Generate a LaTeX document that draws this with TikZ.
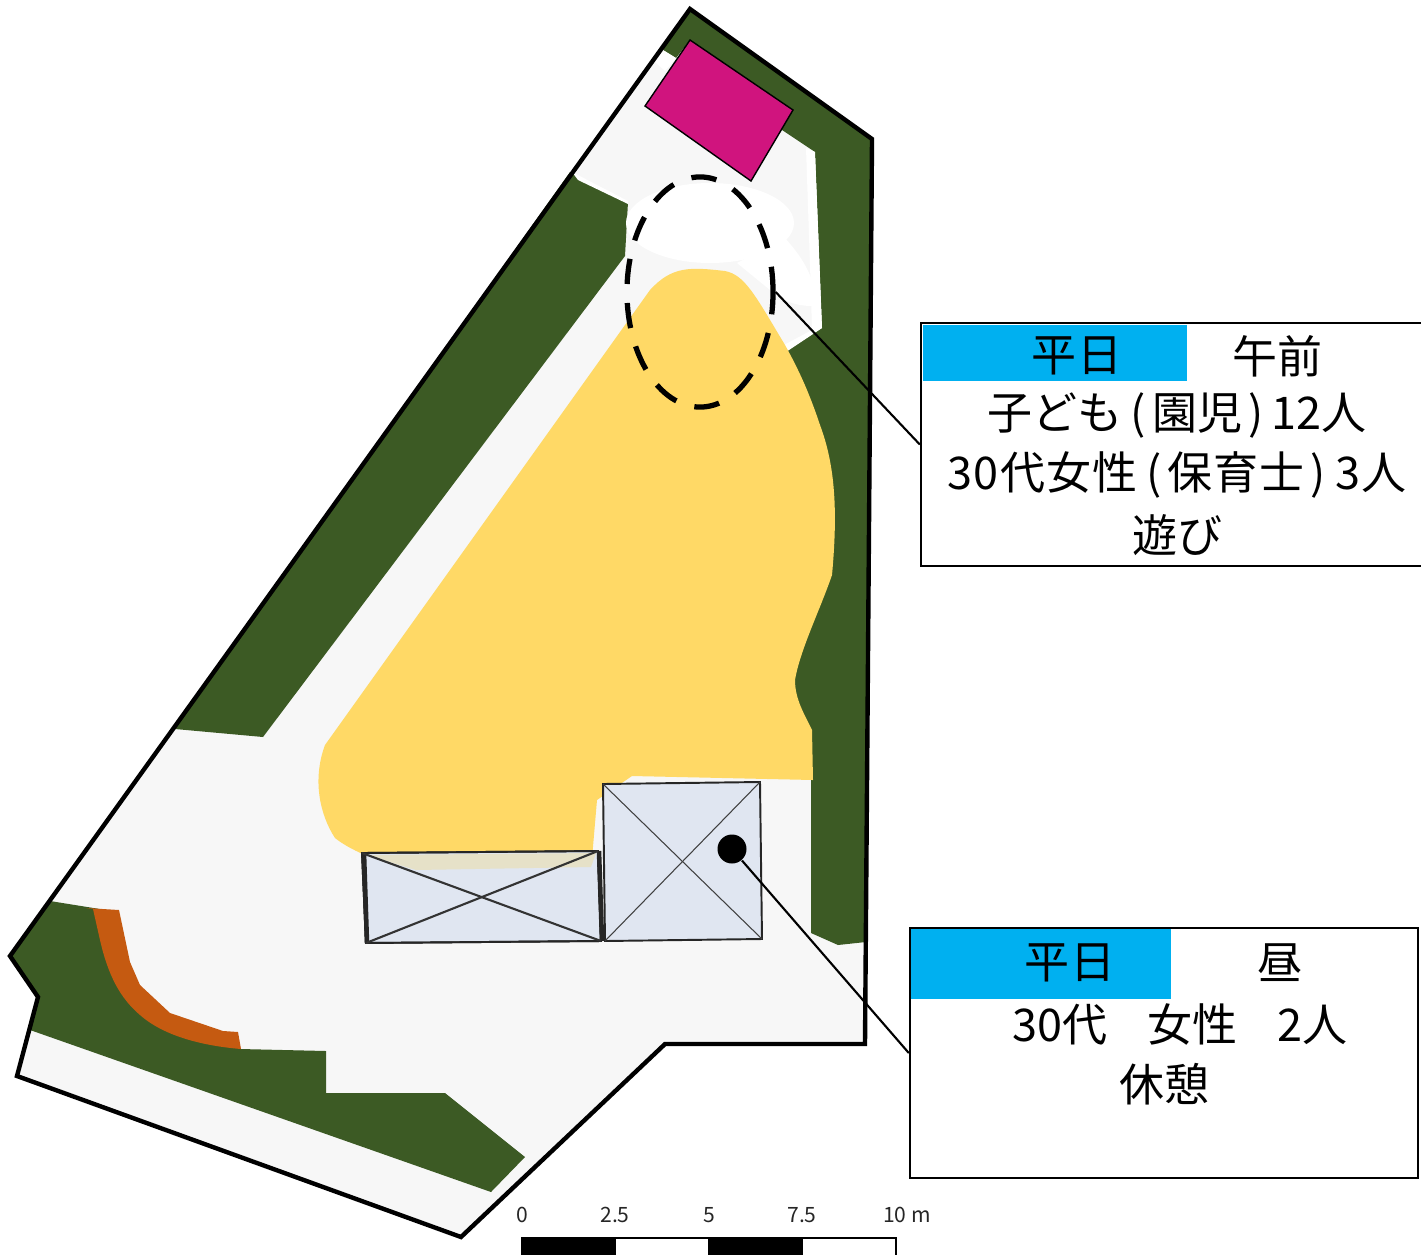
\documentclass[tikz,border=0pt]{standalone}
\usepackage{fontspec}
\setmainfont{Noto Sans CJK JP}
\usetikzlibrary{positioning,shapes.geometric}

\begin{document}
\begin{tikzpicture}
[x=0.01cm,y=-0.01cm,
site/.style={fill=sitegray},
green/.style={fill=parkgreen},
gap/.style={fill=white},
house/.style={draw=black!85,fill=housefill,line width=0.55pt},
thin cross/.style={draw=black!75,line width=0.3pt},
wide cross/.style={draw=black!80,line width=0.6pt},
panel/.style={draw=black,line width=0.6pt,fill=white,inner sep=0pt},
head/.style={fill=headblue,inner sep=0pt},
say/.style={inner sep=0pt,font=\fontsize{12.8}{14}\selectfont},
tick/.style={inner sep=0pt,font=\fontsize{6}{7}\selectfont,text=black!85},
lead/.style={draw=black,line width=0.6pt}]
\definecolor{sitegray}{HTML}{F7F7F7}
\definecolor{parkgreen}{HTML}{3C5A24}
\definecolor{sandyellow}{HTML}{FFD966}
\definecolor{housefill}{HTML}{E0E6F1}
\definecolor{housebeige}{HTML}{E6E1C8}
\definecolor{roofpink}{HTML}{D0147E}
\definecolor{barkorange}{HTML}{C55A11}
\definecolor{headblue}{HTML}{00B0F0}
\useasboundingbox (0,0) rectangle (1421,1254);

\fill [site] (690,9) -- (872,139) -- (865,1044) -- (665,1044) -- (461,1237) -- (17,1076) -- (38,997) -- (10,956) -- cycle;

\fill [green] (690,9) -- (872,139) -- (866,942) -- (838,945) -- (811,933) -- (811,735) -- (790,690) -- (785,352) -- (822,328) -- (815,152) -- (782,130) -- (690,40) -- (676,58) -- (663,50) -- cycle;
\fill [green] (570,172) -- (628,202) -- (625,256) -- (263,737) -- (175,729) -- cycle;
\fill [green] (50,901) -- (106,910) -- (115,950) -- (128,985) -- (155,1015) -- (215,1038) -- (240,1049) -- (326,1051) -- (326,1093) -- (445,1093) -- (525,1157) -- (491,1192) -- (30,1030) -- (38,997) -- (10,956) -- cycle;

\fill [barkorange] (86,908) -- (119,910) -- (130,962) -- (140,985) -- (170,1013) -- (223,1031) -- (238,1032) -- (241,1049) .. controls (205,1046) and (165,1037) .. (140,1015) .. controls (120,998) and (108,975) .. (100,940) -- (93,909) -- cycle;

\fill [gap] (663,50) -- (676,58) -- (665,71) -- (655,62) -- cycle;
\fill [gap] (572,172) -- (628,201) -- (628,204) -- (578,180) -- cycle;
\fill [gap] (806,148) -- (815,152) -- (822,328) -- (786,352) -- (782,346) -- (812,330) -- (810,265) -- cycle;
\fill [gap] (710,223) ellipse [x radius=84,y radius=40];
\fill [gap] (785,238) .. controls (800,255) and (806,265) .. (812,280) -- (812,306) .. controls (795,306) and (780,300) .. (770,290) -- (737,263) -- cycle;

\fill [sandyellow] (325,745) -- (650,290) .. controls (672,266) and (690,267) .. (725,271) .. controls (745,275) and (755,295) .. (785,345) .. controls (800,372) and (810,395) .. (820,425) .. controls (835,465) and (838,510) .. (832,575) .. controls (820,610) and (800,650) .. (795,680) .. controls (795,700) and (805,715) .. (812,730) -- (813,780) -- (632,776) -- (597,800) -- (591,870) -- (400,868) .. controls (375,860) and (350,850) .. (335,838) .. controls (320,815) and (312,780) .. (325,745) -- cycle;

\fill [house] (362,853) -- (598,851) -- (601,941) -- (366,943) -- cycle;
\fill [housebeige] (366,855) -- (596,853) -- (591,867) -- (416,870) -- cycle;
\draw [draw=black!85,line width=0.55pt] (362,853) -- (598,851) -- (601,941) -- (366,943) -- cycle;
\draw [black!85,line width=1.3pt] (364,853) -- (367,943);
\draw [black!85,line width=1.3pt] (599,851) -- (602,941);
\draw [wide cross] (362,853) -- (601,941);
\draw [wide cross] (598,851) -- (366,943);

\filldraw [house] (603,784) -- (760,782) -- (762,939) -- (605,941) -- cycle;
\draw [thin cross] (603,784) -- (762,939);
\draw [thin cross] (760,782) -- (605,941);

\draw [black,fill=roofpink,line width=0.4pt] (690,40) -- (793,110) -- (751,181) -- (645,106) -- cycle;

\draw [line width=1.25pt,line join=miter] (690,9) -- (872,139) -- (865,1044) -- (665,1044) -- (461,1237) -- (17,1076) -- (38,997) -- (10,956) -- cycle;

\node [ellipse,draw=black,line width=1.5pt,dash pattern=on 7.2pt off 5.4pt,minimum width=1.46cm,minimum height=2.3cm,inner sep=0pt] (playarea) at (700,292) {};
\node [circle,fill=black,inner sep=0pt,minimum size=0.29cm] (bench) at (732,849) {};

\node [panel,minimum width=5.09cm,minimum height=2.43cm] (morning) at (1175.5,444.5) {};
\node [head,minimum width=2.64cm,minimum height=0.56cm] (morninghead) at (1055,353) {};
\node [say] (mday) at (1077,356) {平日};
\node [say] (mtime) at (1277,356) {午前};
\node [say] (mline1) at (1177,415) {子ども\hspace{0.08cm}(\hspace{0.06cm}園児\hspace{0.06cm})\hspace{0.08cm}12人};
\node [say] (mline2) at (1177,475) {\addfontfeature{LetterSpace=2.5}30代女性\hspace{0.09cm}(\hspace{0.06cm}保育士\hspace{0.06cm})\hspace{0.09cm}3人};
\node [say] (mline3) at (1177,535) {遊び};

\node [panel,minimum width=5.08cm,minimum height=2.5cm] (noon) at (1164,1053) {};
\node [head,minimum width=2.6cm,minimum height=0.69cm] (noonhead) at (1041,964) {};
\node [say] (nday) at (1070,963) {平日};
\node [say] (ntime) at (1280,963) {昼};
\node [say] (nline1) at (1180,1024) {30代\hspace{0.4cm}女性\hspace{0.4cm}2人};
\node [say] (nline2) at (1164,1084) {休憩};

\draw [lead] (playarea.east) -- (morning.west);
\draw [lead] (bench) -- (noon.west);

\node [tick] (t0) at (522,1215) {0};
\node [tick] (t25) at (615,1215) {2.5};
\node [tick] (t5) at (709,1215) {5};
\node [tick] (t75) at (802,1215) {7.5};
\node [tick] (t10) at (907,1215) {10 m};

\draw [black,line width=0.3pt,fill=white] (522,1238) rectangle (896,1260);
\fill [black] (522,1238) rectangle (616,1260);
\fill [black] (708,1238) rectangle (803,1260);
\end{tikzpicture}
\end{document}
